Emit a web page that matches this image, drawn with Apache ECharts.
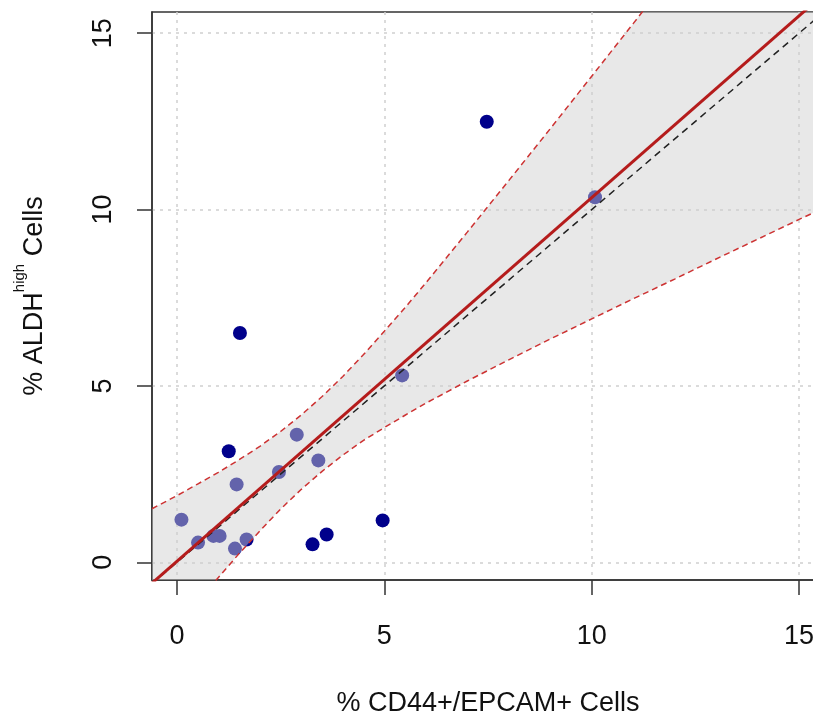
<!DOCTYPE html>
<html>
<head>
<meta charset="utf-8">
<script src="https://cdn.jsdelivr.net/npm/echarts@6/dist/echarts.min.js"></script>
<style>
  html, body { margin: 0; padding: 0; background: #fff; }
  #chart { width: 813px; height: 716px; }
</style>
</head>
<body>
<div id="chart"></div>
<script>
// ---- data ----
const pointX = [7.47, 1.52, 1.25, 4.96, 3.61, 3.27,
                10.08, 5.43, 2.89, 3.41, 2.46, 1.44, 0.11, 0.51, 0.88, 1.03, 1.40, 1.68];
const pointY = [12.49, 6.50, 3.15, 1.19, 0.79, 0.51,
                10.35, 5.30, 3.62, 2.89, 2.56, 2.21, 1.21, 0.56, 0.75, 0.75, 0.39, 0.65];

// confidence band boundaries (dashed red lines)
const bandX    = [-0.6, 0, 0.5, 1, 1.5, 2, 2.5, 3, 3.5, 4, 4.5, 5, 5.5, 6, 7, 8, 9, 10, 11, 12, 13, 14, 15, 15.6];
const bandHigh = [1.52, 1.89, 2.22, 2.55, 2.91, 3.29, 3.71, 4.18, 4.70, 5.27, 5.89, 6.55, 7.22, 7.92, 9.36, 10.82, 12.29, 13.78, 15.27, 16.77, 18.27, 19.77, 21.28, 22.17];
const bandLow  = [-2.70, -1.83, -1.12, -0.43, 0.25, 0.89, 1.51, 2.07, 2.58, 3.04, 3.46, 3.82, 4.17, 4.51, 5.14, 5.74, 6.33, 6.90, 7.47, 8.03, 8.60, 9.16, 9.72, 10.05];

// fitted regression line (solid red) and identity line (dashed black)
const fitX = [-0.6, 15.6];
const fitY = [-0.59, 16.11];
const idX  = [-0.6, 15.6];
const idY  = [-0.6, 15.6];

const xTicks = [0, 5, 10, 15];
const yTicks = [0, 5, 10, 15];
const xTitle = '% CD44+/EPCAM+ Cells';

// ---- chart ----
const FONT = "'Liberation Sans', Arial, sans-serif";
const chart = echarts.init(document.getElementById('chart'), null, { renderer: 'canvas' });

const zip = (a, b) => a.map((v, i) => [v, b[i]]);

const axisCommon = {
  type: 'value',
  axisLine: { show: true, onZero: false, lineStyle: { color: '#333', width: 1.5 } },
  axisTick: { show: true, length: 15, lineStyle: { color: '#333', width: 1.5 } },
  splitLine: { show: true, lineStyle: { color: '#d0d0d0', width: 1.5, type: [3, 5] } },
  nameTextStyle: { fontFamily: FONT, fontSize: 27, color: '#111' }
};

chart.setOption({
  animation: false,
  backgroundColor: '#fff',
  grid: {
    left: 152, top: 12, width: 672, height: 568,
    outerBoundsMode: 'none', containLabel: false,
    show: true, borderColor: '#333', borderWidth: 1.5, backgroundColor: 'transparent'
  },
  xAxis: Object.assign({}, axisCommon, {
    min: -0.6, max: 15.6,
    axisTick: Object.assign({}, axisCommon.axisTick, { customValues: xTicks }),
    axisLabel: { customValues: xTicks, fontFamily: FONT, fontSize: 27, color: '#111', margin: 43 },
    name: xTitle, nameLocation: 'middle', nameGap: 110
  }),
  yAxis: Object.assign({}, axisCommon, {
    min: -0.5, max: 15.6,
    axisTick: Object.assign({}, axisCommon.axisTick, { customValues: yTicks }),
    axisLabel: { customValues: yTicks, rotate: 90, fontFamily: FONT, fontSize: 27, color: '#111', margin: 35 },
    name: '{m|% ALDH}{s|high}{m| Cells}',
    nameLocation: 'middle', nameGap: 104, nameRotate: 90,
    nameTextStyle: {
      fontFamily: FONT, fontSize: 27, color: '#111',
      rich: {
        m: { fontFamily: FONT, fontSize: 27, lineHeight: 27, color: '#111', verticalAlign: 'bottom' },
        s: { fontFamily: FONT, fontSize: 15, lineHeight: 15, color: '#111', verticalAlign: 'bottom', padding: [0, 0, 21, 0] }
      }
    }
  }),
  series: [
    {
      type: 'scatter', z: 2,
      data: zip(pointX, pointY),
      symbol: 'circle', symbolSize: 14,
      itemStyle: { color: '#00008B', opacity: 1 }
    },
    {
      type: 'custom', z: 3, clip: true, silent: true,
      data: bandX.map((x, i) => [x, bandLow[i], bandHigh[i]]),
      encode: { x: 0, y: [1, 2] },
      renderItem: function (params, api) {
        if (params.dataIndex !== 0) return null;
        const pts = [];
        for (let i = 0; i < bandX.length; i++) pts.push(api.coord([bandX[i], bandHigh[i]]));
        for (let i = bandX.length - 1; i >= 0; i--) pts.push(api.coord([bandX[i], bandLow[i]]));
        return { type: 'polygon', shape: { points: pts }, style: { fill: 'rgba(207,207,207,0.48)' } };
      }
    },
    {
      type: 'line', z: 4, data: zip(bandX, bandHigh), showSymbol: false, symbol: 'none',
      lineStyle: { color: '#cd3333', width: 1.5, type: [6, 4] }
    },
    {
      type: 'line', z: 4, data: zip(bandX, bandLow), showSymbol: false, symbol: 'none',
      lineStyle: { color: '#cd3333', width: 1.5, type: [6, 4] }
    },
    {
      type: 'line', z: 5, data: zip(idX, idY), showSymbol: false, symbol: 'none',
      lineStyle: { color: '#222', width: 1.5, type: [7, 5] }
    },
    {
      type: 'line', z: 6, data: zip(fitX, fitY), showSymbol: false, symbol: 'none',
      lineStyle: { color: '#b51c1c', width: 3 }
    }
  ]
});
</script>
</body>
</html>
